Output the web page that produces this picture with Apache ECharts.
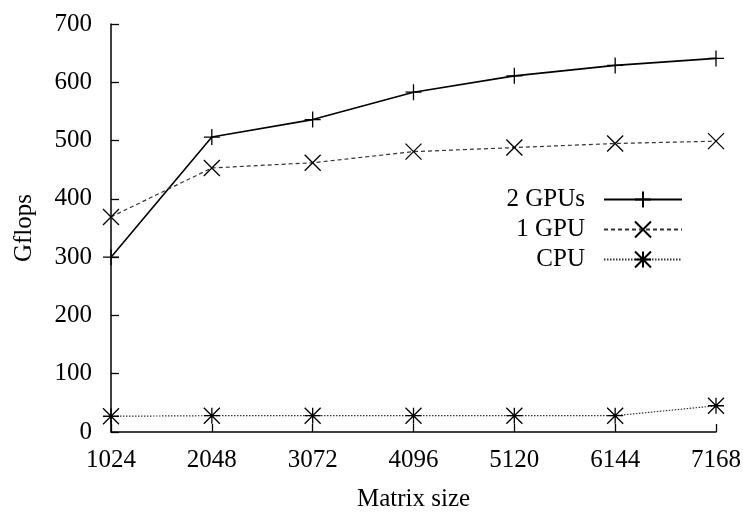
<!DOCTYPE html>
<html>
<head>
<meta charset="utf-8">
<script src="https://cdn.jsdelivr.net/npm/echarts@6/dist/echarts.min.js"></script>
<style>
  html, body { margin: 0; padding: 0; background: #fff; }
  #chart { width: 743px; height: 516px; }
</style>
</head>
<body>
<div id="chart"></div>
<script>
// matrix sizes on the x axis
var sizes = [1024, 2048, 3072, 4096, 5120, 6144, 7168];
// Gflops
var twoGpus = [300, 506, 536, 583, 611, 629, 641];
var oneGpu = [369, 453, 462, 481, 488, 495, 499];
var cpu = [27, 28, 28, 28, 28, 28, 45];
var seriesNames = ['2 GPUs', '1 GPU', 'CPU'];

var FONT = 'Liberation Serif';

var plus = 'path://M7,0L7,14M0,7L14,7';
var cross = 'path://M0,0L14,14M0,14L14,0';
var star = 'path://M7,0L7,14M0,7L14,7M0,0L14,14M0,14L14,0';

function pairs(ys) {
  var out = [];
  for (var i = 0; i < sizes.length; i++) {
    out.push([sizes[i], ys[i]]);
  }
  return out;
}

function makeSeries(name, ys, symbol, lineType, lineWidth, lineColor) {
  return {
    name: name,
    type: 'line',
    data: pairs(ys),
    symbol: symbol,
    symbolSize: 16,
    showAllSymbol: true,
    lineStyle: { color: lineColor, width: lineWidth, type: lineType },
    itemStyle: { color: 'none', borderColor: '#000', borderWidth: 1.3 },
    emphasis: { disabled: true },
    animation: false
  };
}

var chart = echarts.init(document.getElementById('chart'), null, { renderer: 'canvas' });

chart.setOption({
  backgroundColor: '#fff',
  animation: false,
  grid: { left: 111, right: 27, top: 24, bottom: 84, outerBoundsMode: 'none', containLabel: false },
  legend: {
    data: seriesNames,
    orient: 'vertical',
    right: 55,
    top: 182,
    align: 'right',
    itemWidth: 78,
    itemHeight: 20,
    itemGap: 5,
    textStyle: { fontFamily: FONT, fontSize: 25, color: '#000', padding: [0, 14, 0, 0] },
    selectedMode: false
  },
  xAxis: {
    type: 'value',
    min: 1024,
    max: 7168,
    interval: 1024,
    name: 'Matrix size',
    nameLocation: 'middle',
    nameGap: 55,
    nameTextStyle: { fontFamily: FONT, fontSize: 25, color: '#000' },
    axisLine: { lineStyle: { color: '#000', width: 1.5 } },
    axisTick: { inside: true, length: 8, lineStyle: { color: '#000', width: 1.3 } },
    axisLabel: {
      fontFamily: FONT, fontSize: 25, color: '#000', margin: 16,
      formatter: function (v) { return String(v); }
    },
    splitLine: { show: false }
  },
  yAxis: {
    type: 'value',
    min: 0,
    max: 700,
    interval: 100,
    name: 'Gflops',
    nameLocation: 'middle',
    nameGap: 74,
    nameTextStyle: { fontFamily: FONT, fontSize: 25, color: '#000' },
    axisLine: { show: true, lineStyle: { color: '#000', width: 1.5 } },
    axisTick: { show: true, inside: true, length: 8, lineStyle: { color: '#000', width: 1.3 } },
    axisLabel: { fontFamily: FONT, fontSize: 25, color: '#000', margin: 19 },
    splitLine: { show: false }
  },
  series: [
    makeSeries(seriesNames[0], twoGpus, plus, 'solid', 1.6, '#000'),
    makeSeries(seriesNames[1], oneGpu, cross, [4, 3], 1.2, '#333'),
    makeSeries(seriesNames[2], cpu, star, [1.5, 1.5], 1.2, '#333')
  ]
});
</script>
</body>
</html>
